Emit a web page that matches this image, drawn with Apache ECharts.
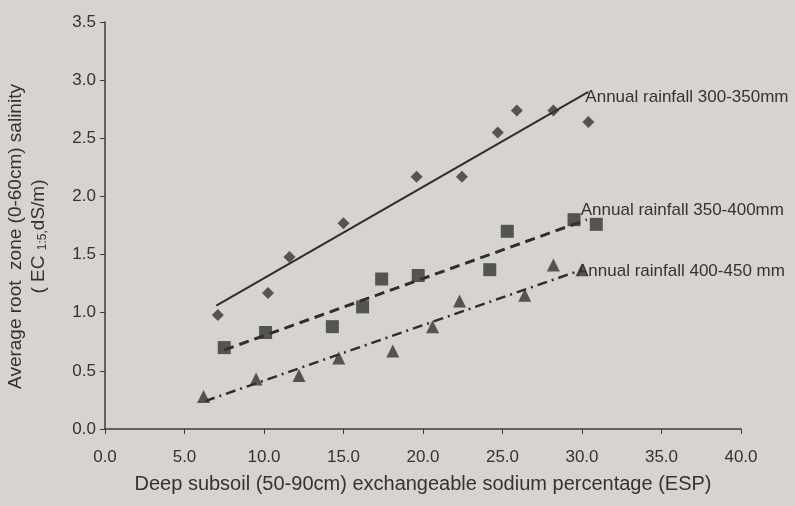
<!DOCTYPE html>
<html>
<head>
<meta charset="utf-8">
<script src="https://cdn.jsdelivr.net/npm/echarts@6/dist/echarts.min.js"></script>
<style>
html,body{margin:0;padding:0;background:#d7d4cf;}
#c{width:795px;height:506px;}
</style>
</head>
<body>
<div id="c"></div>
<script>
// Observed data: [ESP, EC1:5]
const rain300x = [7.1, 10.25, 11.6, 15.0, 19.6, 22.45, 24.7, 25.9, 28.2, 30.4];
const rain300y = [0.98, 1.17, 1.48, 1.77, 2.17, 2.17, 2.55, 2.74, 2.74, 2.64];
const rain350x = [7.5, 10.1, 14.3, 16.2, 17.4, 19.7, 24.2, 25.3, 29.5, 30.9];
const rain350y = [0.70, 0.83, 0.88, 1.05, 1.29, 1.32, 1.37, 1.70, 1.80, 1.76];
const rain400x = [6.2, 9.5, 12.2, 14.7, 18.1, 20.6, 22.3, 26.4, 28.2, 30.0];
const rain400y = [0.28, 0.43, 0.46, 0.61, 0.67, 0.88, 1.10, 1.15, 1.41, 1.37];
// Trend line end points [x, y]
const trend300 = [[7.0, 1.06], [30.4, 2.90]];
const trend350 = [[7.5, 0.68], [30.3, 1.80]];
const trend400 = [[6.3, 0.24], [30.0, 1.37]];
const labels = ['Annual rainfall 300-350mm', 'Annual rainfall 350-400mm', 'Annual rainfall 400-450 mm'];

const ink = '#333333';
const font = 'Liberation Sans, Arial, sans-serif';
const zip = (xs, ys) => xs.map((x, i) => [x, ys[i]]);

function trendSeries(pts, name, dash, width, off) {
  return {
    type: 'line', name: name, silent: true, symbol: 'none', z: 2,
    lineStyle: {color: '#2e2e2e', width: width, type: dash},
    endLabel: {show: true, distance: 0, offset: off, formatter: name,
      color: ink, fontSize: 17, fontFamily: font},
    data: pts,
    animation: false
  };
}
function scatter(data, sym, size) {
  return {type: 'scatter', symbol: sym, symbolSize: size, itemStyle: {color: '#333333'}, data: data, z: 3, animation: false};
}

const chart = echarts.init(document.getElementById('c'), null, {renderer: 'canvas'});
chart.setOption({
  backgroundColor: '#d7d4cf',
  animation: false,
  grid: {left: 105, right: 54, top: 22, bottom: 77, outerBoundsMode: 'none', containLabel: false},
  xAxis: {
    type: 'value', min: 0, max: 40, interval: 5,
    name: 'Deep subsoil (50-90cm) exchangeable sodium percentage (ESP)',
    nameLocation: 'middle', nameGap: 45,
    nameTextStyle: {color: ink, fontSize: 20, fontFamily: font},
    axisLine: {show: true, lineStyle: {color: '#3c3c3c', width: 1.5}},
    axisTick: {show: true, length: 5, lineStyle: {color: '#3c3c3c'}},
    axisLabel: {color: ink, fontSize: 17, fontFamily: font, margin: 20, formatter: v => v.toFixed(1)},
    splitLine: {show: false}
  },
  yAxis: {
    type: 'value', min: 0, max: 3.5, interval: 0.5,
    name: '{a|Average root  zone (0-60cm) salinity}\n{a|( EC }{s|1:5,}{a|dS/m)}',
    nameLocation: 'middle', nameGap: 55, nameRotate: 90,
    nameTextStyle: {color: ink, fontSize: 19, fontFamily: font, lineHeight: 23, padding: [0, 22, 0, 0],
      rich: {a: {color: ink, fontSize: 19, fontFamily: font, lineHeight: 23},
             s: {color: ink, fontSize: 12, fontFamily: font, lineHeight: 23, padding: [8, 0, 0, 0]}}},
    axisLine: {show: true, lineStyle: {color: '#3c3c3c', width: 1.5}},
    axisTick: {show: true, length: 5, lineStyle: {color: '#3c3c3c'}},
    axisLabel: {color: ink, fontSize: 17, fontFamily: font, margin: 9, formatter: v => v.toFixed(1)},
    splitLine: {show: false}
  },
  series: [
    trendSeries(trend300, labels[0], 'solid', 2, [-3, 6]),
    trendSeries(trend350, labels[1], [10, 6], 3, [-6, -9]),
    trendSeries(trend400, labels[2], [10, 5, 2, 5], 2.5, [-5, 2]),
    scatter(zip(rain300x, rain300y), 'diamond', 12),
    scatter(zip(rain350x, rain350y), 'rect', 13),
    scatter(zip(rain400x, rain400y), 'triangle', 13)
  ]
});
</script>
</body>
</html>
